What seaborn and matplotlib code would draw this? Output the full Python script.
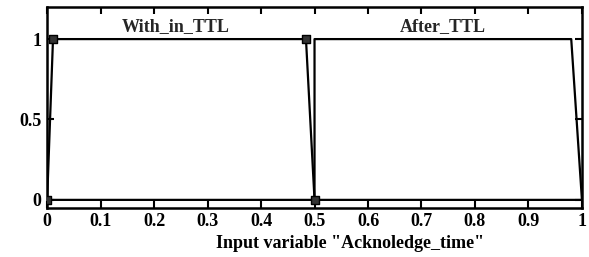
import numpy as np
import pandas as pd
import matplotlib
matplotlib.use("Agg")
import matplotlib.pyplot as plt
import seaborn as sns

sns.set_style("ticks")
plt.rcParams['font.family'] = ['Liberation Serif', 'DejaVu Serif']
plt.rcParams['font.weight'] = 'bold'

# ====================== data ======================
mf_names = ["With_in_TTL", "After_TTL"]
within_x = [0.0, 0.0, 0.011, 0.484, 0.5, 1.0]
within_y = [0.0, 0.0, 1.0, 1.0, 0.0, 0.0]
after_x = [0.0, 0.5, 0.5, 0.98, 1.0]
after_y = [0.0, 0.0, 1.0, 1.0, 0.0]
marker_x = [0.0, 0.011, 0.484, 0.5]
marker_y = [0.0, 1.0, 1.0, 0.0]
label_x = [0.24, 0.74]
label_y = [1.08, 1.08]
xticks = [0, 0.1, 0.2, 0.3, 0.4, 0.5, 0.6, 0.7, 0.8, 0.9, 1]
xtick_labels = ["0", "0.1", "0.2", "0.3", "0.4", "0.5", "0.6", "0.7", "0.8", "0.9", "1"]
yticks = [0, 0.5, 1]
ytick_labels = ["0", "0.5", "1"]

# ====================== plot ======================
fig = plt.figure(figsize=(5.89, 2.57), dpi=100)
ax = fig.add_axes([0.08, 0.191, 0.908, 0.782])

sns.lineplot(x=within_x, y=within_y, sort=False, estimator=None, color="black",
             linewidth=1.6, ax=ax)
sns.lineplot(x=after_x, y=after_y, sort=False, estimator=None, color="black",
             linewidth=1.6, ax=ax)
sns.scatterplot(x=marker_x, y=marker_y, marker="s", s=28, color="#333333",
                edgecolor="black", linewidth=1, ax=ax, zorder=5)

for name, lx, ly in zip(mf_names, label_x, label_y):
    ax.text(lx, ly, name, ha="center", va="center", fontsize=13)

ax.set_xlim(0, 1)
ax.set_ylim(-0.05, 1.2)
ax.set_xticks(xticks)
ax.set_xticklabels(xtick_labels)
ax.set_yticks(yticks)
ax.set_yticklabels(ytick_labels)
ax.tick_params(direction="in", top=True, right=True, length=5, width=1.5,
               labelsize=13, pad=4, colors="black")
for sp in ax.spines.values():
    sp.set_linewidth(1.8)
    sp.set_color("black")
ax.set_xlabel('Input variable "Acknoledge_time"', fontsize=13,
              color="black", fontweight="bold")
ax.xaxis.set_label_coords(0.566, -0.135)
ax.set_ylabel("")

fig.savefig("out.png", dpi=100)
